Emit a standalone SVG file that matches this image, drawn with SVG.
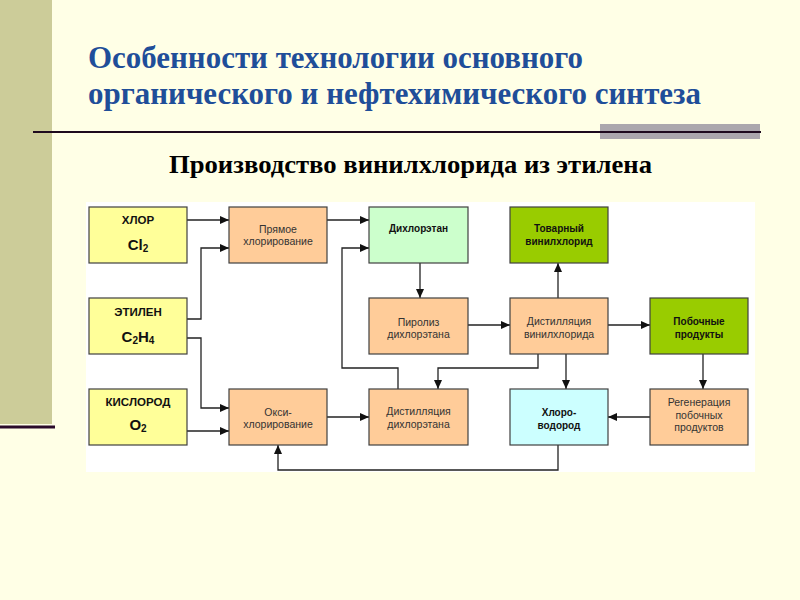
<svg xmlns="http://www.w3.org/2000/svg" width="800" height="600" viewBox="0 0 800 600">
<defs>
<style>
.bg{fill:#FFFFE6}
.box{stroke:#404040;stroke-width:1.2}
.yel{fill:#FFFF99}
.org{fill:#FFCC99}
.lgr{fill:#CCFFCC}
.grn{fill:#99CC00}
.cyn{fill:#CCFFFF}
.t{font-family:"Liberation Sans",Arial,sans-serif;text-anchor:middle}
.reg{font-size:10.5px;fill:#333333}
.bld{font-size:10px;font-weight:bold;fill:#111111}
.src{font-size:11.5px;font-weight:bold;fill:#111111}
.frm{font-size:15px;font-weight:bold;fill:#111111}
.con{fill:none;stroke:#222222;stroke-width:1.3}
.title{font-family:"Liberation Serif","Times New Roman",serif;font-weight:bold;font-size:31px;fill:#1F4E99}
.sub{font-family:"Liberation Serif","Times New Roman",serif;font-weight:bold;font-size:26px;fill:#000000}
</style>
<marker id="ah" markerWidth="9" markerHeight="8" refX="9" refY="4" orient="auto" markerUnits="userSpaceOnUse">
<path d="M0,0 L9,4 L0,8 Z" fill="#111111"/>
</marker>
</defs>
<rect class="bg" x="0" y="0" width="800" height="600"/>
<rect x="0" y="0" width="52" height="424" fill="#CCCC99"/>
<rect x="0" y="425.5" width="55" height="3" fill="#2A0A2A"/>
<rect x="600" y="124" width="160" height="15" fill="#ABA7AD"/>
<line x1="33" y1="132" x2="761" y2="132" stroke="#1E0A1E" stroke-width="2.2"/>
<text class="title" x="88" y="68" textLength="495" lengthAdjust="spacingAndGlyphs">Особенности технологии основного</text>
<text class="title" x="88" y="104" textLength="613" lengthAdjust="spacingAndGlyphs">органического и нефтехимического синтеза</text>
<text class="sub" x="169" y="173" textLength="483" lengthAdjust="spacingAndGlyphs">Производство винилхлорида из этилена</text>
<rect x="86" y="202" width="669" height="270" fill="#FFFFFF"/>

<g id="connectors">
<path class="con" d="M187,220 H229" marker-end="url(#ah)"/>
<path class="con" d="M187,319 H201 V248 H229" marker-end="url(#ah)"/>
<path class="con" d="M187,338 H201 V408 H229" marker-end="url(#ah)"/>
<path class="con" d="M187,431 H229" marker-end="url(#ah)"/>
<path class="con" d="M327,220 H369" marker-end="url(#ah)"/>
<path class="con" d="M398,389 V368 H342 V248 H369" marker-end="url(#ah)"/>
<path class="con" d="M420,263 V298" marker-end="url(#ah)"/>
<path class="con" d="M468,325 H510" marker-end="url(#ah)"/>
<path class="con" d="M558,298 V263" marker-end="url(#ah)"/>
<path class="con" d="M566,354 V389" marker-end="url(#ah)"/>
<path class="con" d="M538,354 V368 H438 V389" marker-end="url(#ah)"/>
<path class="con" d="M608,325 H650" marker-end="url(#ah)"/>
<path class="con" d="M703,354 V389" marker-end="url(#ah)"/>
<path class="con" d="M650,417 H608" marker-end="url(#ah)"/>
<path class="con" d="M327,417 H369" marker-end="url(#ah)"/>
<path class="con" d="M558,445 V470 H278 V445" marker-end="url(#ah)"/>
</g>

<g id="chlor">
<rect class="box yel" x="89" y="207" width="98" height="56"/>
<text class="t src" x="138" y="224">ХЛОР</text>
<text class="t frm" x="138" y="250">Cl<tspan font-size="10" dy="2">2</tspan></text>
</g>
<g id="ethylene">
<rect class="box yel" x="89" y="298" width="98" height="56"/>
<text class="t src" x="138" y="316">ЭТИЛЕН</text>
<text class="t frm" x="138" y="342">C<tspan font-size="10" dy="2">2</tspan><tspan dy="-2">H</tspan><tspan font-size="10" dy="2">4</tspan></text>
</g>
<g id="oxygen">
<rect class="box yel" x="89" y="389" width="98" height="56"/>
<text class="t src" x="138" y="406">КИСЛОРОД</text>
<text class="t frm" x="138" y="430">O<tspan font-size="10" dy="2">2</tspan></text>
</g>
<g id="direct-chlorination">
<rect class="box org" x="229" y="207" width="98" height="56"/>
<text class="t reg" x="278" y="233">Прямое</text>
<text class="t reg" x="278" y="245">хлорирование</text>
</g>
<g id="oxychlorination">
<rect class="box org" x="229" y="389" width="98" height="56"/>
<text class="t reg" x="278" y="416">Окси-</text>
<text class="t reg" x="278" y="428">хлорирование</text>
</g>
<g id="dichloroethane">
<rect class="box lgr" x="369" y="207" width="99" height="56"/>
<text class="t bld" x="418.5" y="232">Дихлорэтан</text>
</g>
<g id="pyrolysis">
<rect class="box org" x="369" y="298" width="99" height="56"/>
<text class="t reg" x="418.5" y="326">Пиролиз</text>
<text class="t reg" x="418.5" y="338">дихлорэтана</text>
</g>
<g id="edc-distillation">
<rect class="box org" x="369" y="389" width="99" height="56"/>
<text class="t reg" x="418.5" y="415">Дистилляция</text>
<text class="t reg" x="418.5" y="428">дихлорэтана</text>
</g>
<g id="commercial-vc">
<rect class="box grn" x="510" y="207" width="98" height="56"/>
<text class="t bld" x="559" y="232">Товарный</text>
<text class="t bld" x="559" y="245">винилхлорид</text>
</g>
<g id="vc-distillation">
<rect class="box org" x="510" y="298" width="98" height="56"/>
<text class="t reg" x="559" y="325">Дистилляция</text>
<text class="t reg" x="559" y="338">винилхлорида</text>
</g>
<g id="hcl">
<rect class="box cyn" x="510" y="389" width="98" height="56"/>
<text class="t bld" x="559" y="416">Хлоро-</text>
<text class="t bld" x="559" y="429">водород</text>
</g>
<g id="byproducts">
<rect class="box grn" x="650" y="298" width="98" height="56"/>
<text class="t bld" x="699" y="325">Побочные</text>
<text class="t bld" x="699" y="338">продукты</text>
</g>
<g id="regeneration">
<rect class="box org" x="650" y="389" width="98" height="56"/>
<text class="t reg" x="699" y="406">Регенерация</text>
<text class="t reg" x="699" y="419">побочных</text>
<text class="t reg" x="699" y="431">продуктов</text>
</g>
</svg>
